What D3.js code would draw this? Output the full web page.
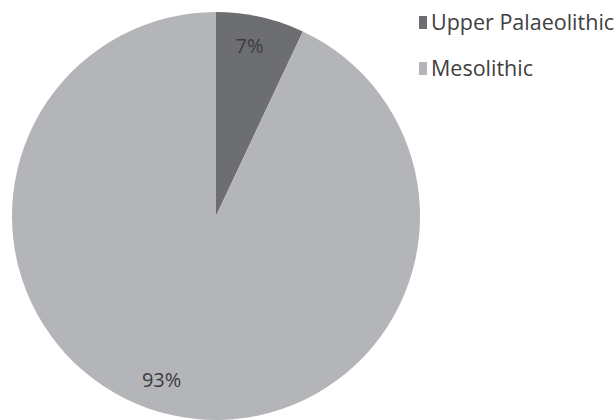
<!DOCTYPE html>
<html>
<head>
    <meta charset="utf-8">
    <script src="https://d3js.org/d3.v7.min.js"></script>
    <style>
        body { margin: 0; background: #fff; }
        text { font-family: "Open Sans", sans-serif; }
    </style>
</head>
<body>
    <div id="chart"></div>
    <script>
        var categories = ["Upper Palaeolithic", "Mesolithic"];
        var values = [7, 93];
        var labels = ["7%", "93%"];
        var colors = ["#6d6e71", "#b4b5b9"];

        var width = 616, height = 420,
            cx = 216, cy = 216, radius = 204;

        var svg = d3.select("#chart")
            .append("svg")
            .attr("width", width)
            .attr("height", height);

        var pie = d3.pie().sort(null).value(function (d) { return d; });
        var arc = d3.arc().innerRadius(0).outerRadius(radius);

        var g = svg.append("g")
            .attr("transform", "translate(" + cx + "," + cy + ")");

        var arcs = pie(values);

        g.selectAll("path")
            .data(arcs)
            .enter()
            .append("path")
            .attr("d", arc)
            .style("fill", function (d, i) { return colors[i]; });

        // labels sit near the rim, nudged a little like the original's "best fit"
        var labelR = 173;
        var nudge = [-0.025, 0.1];
        g.selectAll("text.lbl")
            .data(arcs)
            .enter()
            .append("text")
            .attr("class", "lbl")
            .attr("x", function (d, i) { return labelR * Math.sin((d.startAngle + d.endAngle) / 2 + nudge[i]); })
            .attr("y", function (d, i) { return -labelR * Math.cos((d.startAngle + d.endAngle) / 2 + nudge[i]); })
            .attr("text-anchor", "middle")
            .attr("dy", "0.35em")
            .style("font-size", "20px")
            .style("fill", "#3d3d3d")
            .text(function (d, i) { return labels[i]; });

        // legend
        var legend = svg.append("g")
            .attr("transform", "translate(419,16)");

        var item = legend.selectAll("g")
            .data(categories)
            .enter()
            .append("g")
            .attr("transform", function (d, i) { return "translate(0," + (i * 46) + ")"; });

        item.append("rect")
            .attr("width", 8)
            .attr("height", 13)
            .style("fill", function (d, i) { return colors[i]; });

        item.append("text")
            .attr("x", 12)
            .attr("y", 14)
            .style("font-size", "21.5px")
            .style("fill", "#404040")
            .text(function (d) { return d; });
    </script>
</body>
</html>
